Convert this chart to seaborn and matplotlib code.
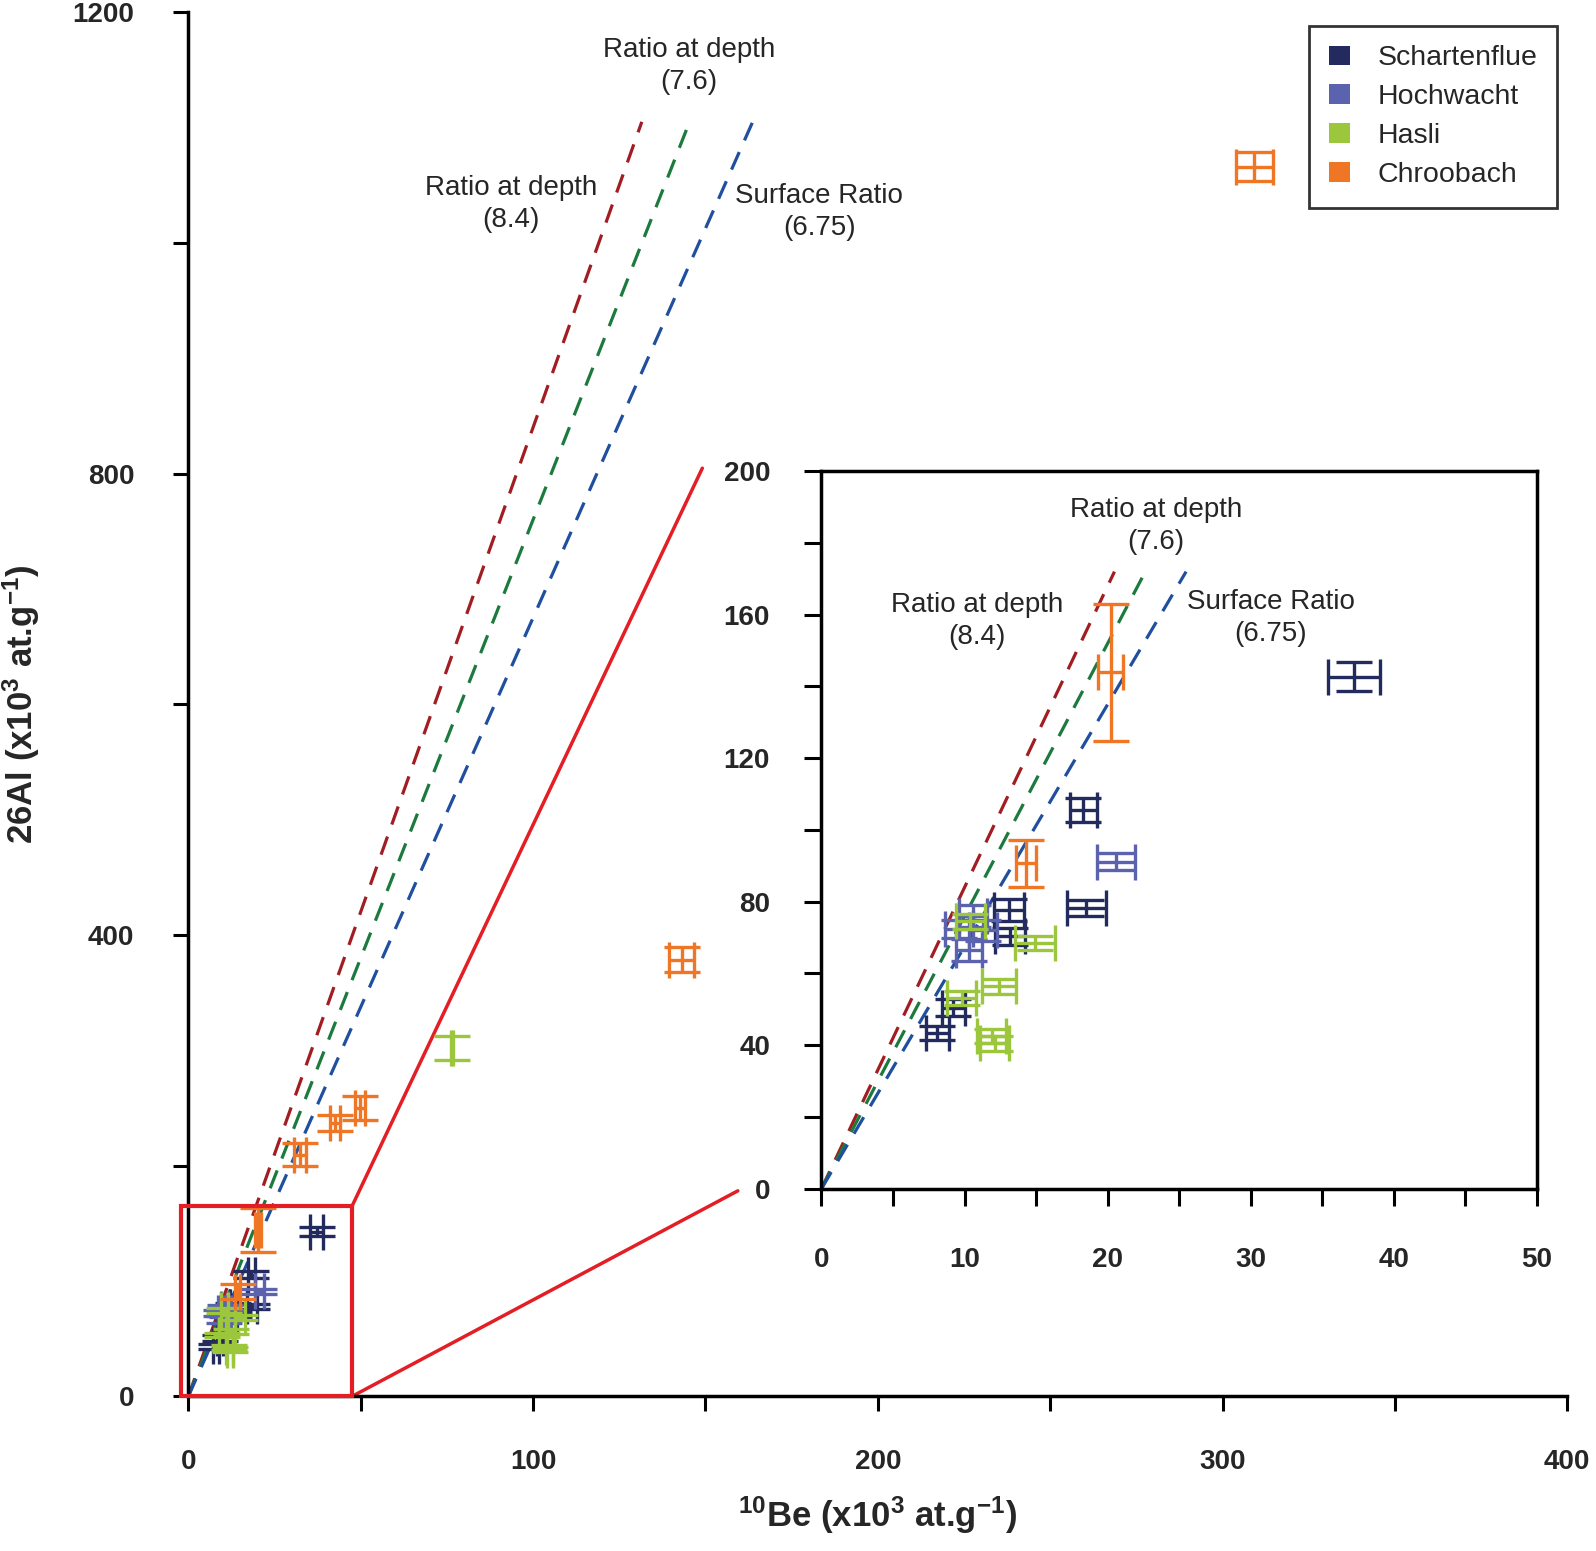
import numpy as np
import pandas as pd
import seaborn as sns
import matplotlib.pyplot as plt
from matplotlib.patches import Patch, Rectangle

# --- data: 10Be, 26Al and 1-sigma errors (x10^3 at/g) per site ---
sites = ["Schartenflue", "Hochwacht", "Hasli", "Chroobach"]
colors = ["#232a5e", "#5b62ae", "#9cc63c", "#ee7624"]

schartenflue_be = [37.2, 18.3, 18.5, 13.1, 13.2, 9.2, 8.1]
schartenflue_al = [142.7, 105.6, 78.2, 77.7, 70.3, 50.5, 43.4]
schartenflue_be_err = [1.8, 0.93, 1.35, 1.05, 1.05, 0.8, 0.8]
schartenflue_al_err = [4.0, 3.3, 2.3, 3.0, 2.5, 2.5, 2.0]

hochwacht_be = [20.6, 9.6, 10.6, 10.3, 11.3]
hochwacht_al = [91.2, 72.5, 76.0, 66.5, 72.0]
hochwacht_be_err = [1.34, 1.0, 1.0, 0.9, 1.0]
hochwacht_al_err = [2.3, 2.5, 3.0, 3.0, 3.0]

hasli_be = [76.4, 14.9, 10.4, 12.4, 9.8, 11.9, 12.1]
hasli_al = [301.9, 68.5, 74.5, 56.4, 53.1, 42.5, 40.5]
hasli_be_err = [0.3, 1.4, 1.0, 1.16, 1.0, 1.0, 1.0]
hasli_al_err = [10.1, 1.9, 2.0, 2.0, 2.0, 2.0, 2.0]

chroobach_be = [309.2, 143.1, 49.8, 42.5, 32.4, 20.2, 14.3]
chroobach_al = [1066.0, 378.4, 249.9, 236.9, 209.4, 143.9, 90.7]
chroobach_be_err = [5.3, 3.6, 1.45, 1.45, 1.7, 0.9, 0.7]
chroobach_al_err = [12.6, 10.8, 10.1, 7.2, 10.0, 19.0, 6.5]

# 26Al/10Be ratio lines
ratio_values = [8.4, 7.6, 6.75]
ratio_colors = ["#a11d22", "#1c7a3e", "#1f4f9e"]
ratio_labels = ["Ratio at depth\n(8.4)", "Ratio at depth\n(7.6)", "Surface Ratio\n(6.75)"]

# build a long table
frames = []
for site, be, al, be_err, al_err in [
    ("Schartenflue", schartenflue_be, schartenflue_al, schartenflue_be_err, schartenflue_al_err),
    ("Hochwacht", hochwacht_be, hochwacht_al, hochwacht_be_err, hochwacht_al_err),
    ("Hasli", hasli_be, hasli_al, hasli_be_err, hasli_al_err),
    ("Chroobach", chroobach_be, chroobach_al, chroobach_be_err, chroobach_al_err),
]:
    frames.append(pd.DataFrame({"site": site, "be": be, "al": al, "be_err": be_err, "al_err": al_err}))
df = pd.concat(frames, ignore_index=True)


def ratio_table(al_top):
    rows = []
    for r, lab in zip(ratio_values, ratio_labels):
        rows.append({"ratio": lab, "be": 0.0, "al": 0.0})
        rows.append({"ratio": lab, "be": al_top / r, "al": al_top})
    return pd.DataFrame(rows)


sns.set_theme(style="white")
plt.rcParams["font.family"] = ["Liberation Sans", "DejaVu Sans"]
plt.rcParams["mathtext.fontset"] = "custom"
plt.rcParams["mathtext.bf"] = "Liberation Sans:bold"
plt.rcParams["mathtext.rm"] = "Liberation Sans:bold"
plt.rcParams["mathtext.default"] = "bf"

fig = plt.figure(figsize=(15.96, 15.51), dpi=100)
ax = fig.add_axes([0.118, 0.0997, 0.864, 0.8924])
axin = fig.add_axes([0.5147, 0.2336, 0.4483, 0.4626])


def draw(a, data, al_top):
    lines = ratio_table(al_top)
    sns.lineplot(data=lines, x="be", y="al", hue="ratio", palette=ratio_colors,
                 ax=a, legend=False, linewidth=2.3, sort=False)
    for ln in a.get_lines():
        ln.set_dashes([6, 4])
    for site, col in zip(sites, colors):
        sub = data[data["site"] == site]
        a.errorbar(sub["be"], sub["al"], xerr=sub["be_err"], yerr=sub["al_err"],
                   fmt="none", ecolor=col, elinewidth=2.4, capsize=13, capthick=2.4, zorder=3)


# --- main panel ---
draw(ax, df, 1105)
ax.set_xlim(0, 400)
ax.set_ylim(0, 1200)
ax.set_xticks([0, 100, 200, 300, 400])
ax.set_xticks([50, 150, 250, 350], minor=True)
ax.set_yticks([0, 400, 800, 1200])
ax.set_yticks([200, 600, 1000], minor=True)
for s in ["top", "right"]:
    ax.spines[s].set_visible(False)
for s in ["left", "bottom"]:
    ax.spines[s].set_linewidth(2.5)
    ax.spines[s].set_color("black")
ax.tick_params(which="both", direction="out", length=11, width=2.2, color="black",
               bottom=True, left=True)
ax.tick_params(axis="x", which="major", pad=27, labelsize=20)
ax.tick_params(axis="y", which="major", pad=28, labelsize=20)
for lab in ax.get_xticklabels() + ax.get_yticklabels():
    lab.set_fontweight("bold")
ax.set_xlabel("$^{10}$Be (x10$^{3}$ at.g$^{-1}$)", fontsize=25, fontweight="bold", labelpad=14)
ax.set_ylabel("26Al (x10$^{3}$ at.g$^{-1}$)", fontsize=25, fontweight="bold", labelpad=22)

ax.text(93.6, 1034, ratio_labels[0], ha="center", va="center", fontsize=20, linespacing=1.3)
ax.text(145.2, 1153, ratio_labels[1], ha="center", va="center", fontsize=20, linespacing=1.3)
ax.text(183.0, 1027, ratio_labels[2], ha="center", va="center", fontsize=20, linespacing=1.3)

# zoom box and connectors
ax.add_patch(Rectangle((-2.1, 0), 49.6, 165, fill=False, edgecolor="#e31e24",
                       linewidth=3, clip_on=False, zorder=4))
ax.plot([47.5, 149.1], [165, 804.7], color="#e31e24", linewidth=2.5, clip_on=False)
ax.plot([47.5, 159.4], [0, 178.2], color="#e31e24", linewidth=2.5, clip_on=False)

handles = [Patch(facecolor=c, edgecolor="none", label=s) for s, c in zip(sites, colors)]
leg = ax.legend(handles=handles, loc="upper right", bbox_to_anchor=(0.9926, 0.9904),
                fontsize=20.5, frameon=True, fancybox=False, handlelength=0.75,
                handleheight=0.7, handletextpad=0.95, labelspacing=0.45,
                borderpad=0.7, borderaxespad=0)
leg.get_frame().set_edgecolor("black")
leg.get_frame().set_linewidth(2)

# --- inset panel (only points whose centre lies inside the zoom window) ---
inset_df = df[(df["be"] <= 50) & (df["al"] <= 200)]
draw(axin, inset_df, 172)
axin.set_xlim(0, 50)
axin.set_ylim(0, 200)
axin.set_xticks([0, 10, 20, 30, 40, 50])
axin.set_xticks([5, 15, 25, 35, 45], minor=True)
axin.set_yticks([0, 40, 80, 120, 160, 200])
axin.set_yticks([20, 60, 100, 140, 180], minor=True)
axin.set_facecolor("white")
for s in axin.spines.values():
    s.set_linewidth(2.5)
    s.set_color("black")
    s.set_visible(True)
axin.tick_params(which="both", direction="out", length=12, width=2.2, color="black",
                 bottom=True, left=True)
axin.tick_params(axis="x", which="major", pad=30, labelsize=20)
axin.tick_params(axis="y", which="major", pad=25, labelsize=20)
for lab in axin.get_xticklabels() + axin.get_yticklabels():
    lab.set_fontweight("bold")
axin.set_xlabel("")
axin.set_ylabel("")

axin.text(10.9, 158.3, ratio_labels[0], ha="center", va="center", fontsize=20, linespacing=1.3)
axin.text(23.4, 184.7, ratio_labels[1], ha="center", va="center", fontsize=20, linespacing=1.3)
axin.text(31.4, 159.0, ratio_labels[2], ha="center", va="center", fontsize=20, linespacing=1.3)

fig.savefig("out.png", dpi=100, facecolor="white")
